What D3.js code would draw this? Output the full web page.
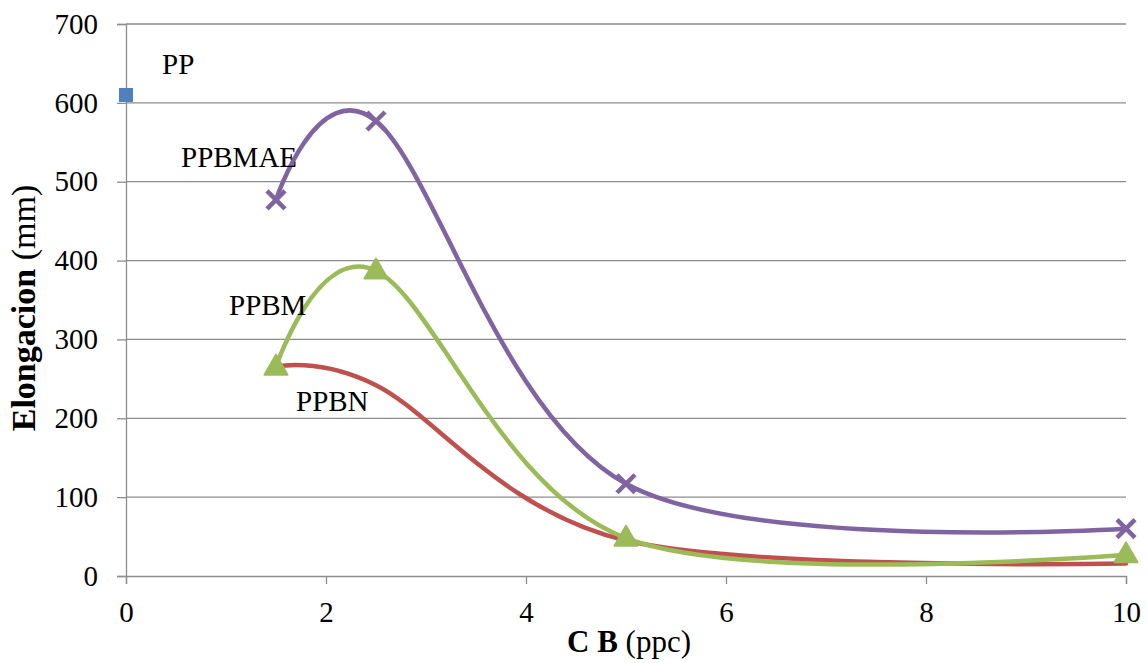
<!DOCTYPE html>
<html>
<head>
<meta charset="utf-8">
<script src="https://cdn.jsdelivr.net/npm/d3@7"></script>
<style>
  html, body { margin: 0; padding: 0; background: #fff; }
  svg { display: block; }
  svg text { font-family: "Liberation Serif", "Times New Roman", serif; fill: #000; }
</style>
</head>
<body>
<svg id="chart" width="1148" height="663"></svg>
<script>
// Elongation vs. C B content for each compound
const cbValues = [1.5, 2.5, 5, 10];
const ppbmae = [477, 577, 117, 60];
const ppbm = [265, 387, 48, 27];
const ppbn = [265, 242, 45, 16];
const ppPoint = { x: 0, y: 610 };

const xTicks = [0, 2, 4, 6, 8, 10];
const yTicks = [0, 100, 200, 300, 400, 500, 600, 700];

const labels = [
  { text: "PP", x: 0.36, y: 636 },
  { text: "PPBMAE", x: 0.55, y: 519 },
  { text: "PPBM", x: 1.03, y: 331 },
  { text: "PPBN", x: 1.7, y: 209 }
];

const svg = d3.select("#chart");
const margin = { left: 126, right: 22, top: 24, bottom: 87 };
const W = 1148, H = 663;
const FS = 29;

const x = d3.scaleLinear().domain([0, 10]).range([margin.left, W - margin.right]);
const y = d3.scaleLinear().domain([0, 700]).range([H - margin.bottom, margin.top]);

// gridlines
svg.append("g")
  .selectAll("line")
  .data(yTicks.filter(d => d > 0))
  .join("line")
  .attr("x1", x(0)).attr("x2", x(10))
  .attr("y1", d => y(d)).attr("y2", d => y(d))
  .attr("stroke", "#8c8c8c").attr("stroke-width", 1.3);

// y axis
const yAxis = svg.append("g")
  .attr("transform", `translate(${x(0)},0)`)
  .call(d3.axisLeft(y).tickValues(yTicks).tickSize(9).tickPadding(19).tickFormat(d3.format("d")));
yAxis.select(".domain").attr("stroke", "#8c8c8c").attr("stroke-width", 1.3);
yAxis.selectAll(".tick line").attr("stroke", "#8c8c8c").attr("stroke-width", 1.3);
yAxis.selectAll(".tick text").style("font-size", FS + "px");

// x axis
const xAxis = svg.append("g")
  .attr("transform", `translate(0,${y(0)})`)
  .call(d3.axisBottom(x).tickValues(xTicks).tickSize(8).tickPadding(17).tickFormat(d3.format("d")));
xAxis.select(".domain").attr("stroke", "#8c8c8c").attr("stroke-width", 1.3);
xAxis.selectAll(".tick line").attr("stroke", "#8c8c8c").attr("stroke-width", 1.3);
xAxis.selectAll(".tick text").style("font-size", FS + "px");

// axis titles
const yt = svg.append("text")
  .attr("transform", `translate(35,308) rotate(-90)`)
  .attr("text-anchor", "middle")
  .style("font-size", "34px");
yt.append("tspan").attr("font-weight", "bold").text("Elongacion");
yt.append("tspan").text(" (mm)");

const xt = svg.append("text")
  .attr("x", 629).attr("y", 652)
  .attr("text-anchor", "middle")
  .style("font-size", "31px");
xt.append("tspan").attr("font-weight", "bold").text("C B");
xt.append("tspan").text(" (ppc)");

// smoothed lines
const line = d3.line()
  .x(d => x(d[0])).y(d => y(d[1]))
  .curve(d3.curveCardinal.tension(0));

const series = [
  { name: "PPBN", values: ppbn, color: "#c0504d", marker: null },
  { name: "PPBM", values: ppbm, color: "#9bbb59", marker: "tri" },
  { name: "PPBMAE", values: ppbmae, color: "#8064a2", marker: "x" }
];

series.forEach(s => {
  const pts = cbValues.map((c, i) => [c, s.values[i]]);
  svg.append("path")
    .attr("d", line(pts))
    .attr("fill", "none")
    .attr("stroke", s.color)
    .attr("stroke-width", 4.5)
    .attr("stroke-linecap", "round");
  const g = svg.append("g");
  if (s.marker === "tri") {
    g.selectAll("path").data(pts).join("path")
      .attr("d", d3.symbol(d3.symbolTriangle, 230))
      .attr("transform", d => `translate(${x(d[0])},${y(d[1]) + 1})`)
      .attr("fill", s.color)
      .attr("stroke", s.color).attr("stroke-width", 2).attr("stroke-linejoin", "round");
  } else if (s.marker === "x") {
    g.selectAll("path").data(pts).join("path")
      .attr("d", "M-9,-9L9,9M-9,9L9,-9")
      .attr("transform", d => `translate(${x(d[0])},${y(d[1])})`)
      .attr("stroke", s.color).attr("stroke-width", 4.5).attr("fill", "none");
  }
});

// single PP point
svg.append("rect")
  .attr("x", x(ppPoint.x) - 7).attr("y", y(ppPoint.y) - 7)
  .attr("width", 14).attr("height", 14)
  .attr("fill", "#4f81bd");

// series labels
svg.append("g").selectAll("text").data(labels).join("text")
  .attr("x", d => x(d.x)).attr("y", d => y(d.y))
  .style("font-size", FS + "px")
  .text(d => d.text);
</script>
</body>
</html>
